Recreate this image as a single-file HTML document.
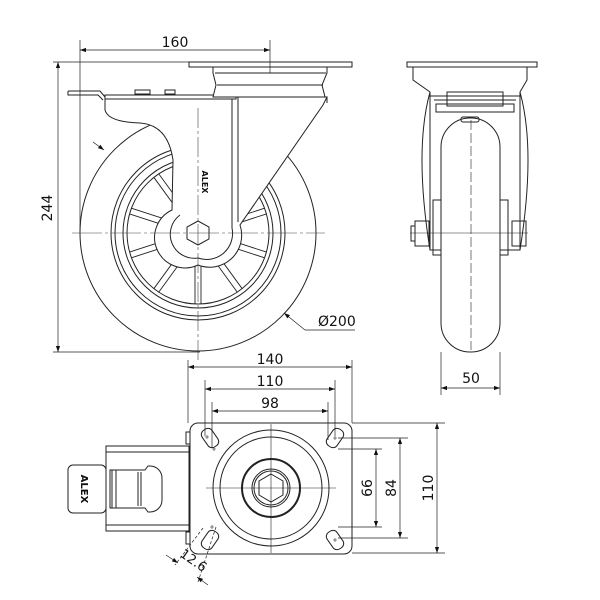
<!DOCTYPE html>
<html><head><meta charset="utf-8"><style>
html,body{margin:0;padding:0;background:#fff}
svg{display:block}
text{font-family:"DejaVu Sans","Liberation Sans",sans-serif;font-size:14px;fill:#111}
</style></head><body>
<svg width="600" height="600" viewBox="0 0 600 600" xmlns="http://www.w3.org/2000/svg">
<defs>
<marker id="a" viewBox="0 0 10 10" refX="10" refY="5" markerWidth="8" markerHeight="6" orient="auto-start-reverse" markerUnits="userSpaceOnUse"><path d="M0,1.5 L10,5 L0,8.5 z" fill="#111"/></marker>
</defs>
<g fill="none" stroke="#222" stroke-width="1">
<!-- FRONT VIEW -->
<circle cx="198" cy="233" r="118"/>
<circle cx="198" cy="233" r="87"/>
<circle cx="198" cy="233" r="83"/>
<circle cx="198" cy="233" r="75"/>
<circle cx="198" cy="233" r="71"/>
<g stroke-width="0.9">
<g id="sp"><line x1="198" y1="200" x2="198" y2="162" transform="translate(-3,0)"/><line x1="198" y1="200" x2="198" y2="162" transform="translate(3,0)"/></g>
<use href="#sp" transform="rotate(36 198 233)"/>
<use href="#sp" transform="rotate(72 198 233)"/>
<use href="#sp" transform="rotate(108 198 233)"/>
<use href="#sp" transform="rotate(144 198 233)"/>
<use href="#sp" transform="rotate(180 198 233)"/>
<use href="#sp" transform="rotate(216 198 233)"/>
<use href="#sp" transform="rotate(252 198 233)"/>
<use href="#sp" transform="rotate(288 198 233)"/>
<use href="#sp" transform="rotate(324 198 233)"/>
</g>
<!-- fork -->
<path d="M105,97 L105,110 Q108,122 140,123 Q168,125 173,160 L172,210 A30,30 0 0 0 198,265 A32,32 0 0 0 240,225 L323,105 L327,97 Z" fill="#fff"/>
<path d="M180,215 A24,24 0 0 0 198,258 A26,26 0 0 0 232,228" />
<line x1="232" y1="97" x2="232" y2="228"/>
<line x1="238" y1="97" x2="238" y2="222"/>
<polygon points="198,221 209,227 209,239 198,245 187,239 187,227" fill="#fff"/>
<!-- lever -->
<path d="M68,91 L100,91 L105,97 M68,91 L68,95 L98,95 L103,100"/>
<rect x="105" y="95" width="131" height="4" fill="#fff"/>
<rect x="135" y="90" width="15" height="4"/><rect x="165" y="90" width="10" height="4"/>
<!-- top plate + bearing -->
<rect x="189" y="62" width="163" height="5" fill="#fff"/>
<path d="M213,67 L327,67 L327,73 L322,85 L325,97 L327,97 L213,97 L216,85 L213,73 Z" fill="#fff"/>
<line x1="215" y1="73" x2="326" y2="73"/><line x1="217" y1="85" x2="323" y2="85"/>
<line x1="327" y1="97" x2="327" y2="103"/>
<!-- centerlines -->
<g stroke-width="0.6" stroke="#444">
<line x1="198" y1="108" x2="198" y2="360" stroke-dasharray="20 3 3 3"/>
<line x1="72" y1="233" x2="325" y2="233" stroke-dasharray="30 3 3 3"/>
</g>
<!-- dims front -->
<g stroke-width="0.7">
<line x1="80" y1="40" x2="80" y2="232"/><line x1="270" y1="40" x2="270" y2="73"/>
<line x1="80" y1="50" x2="270" y2="50" marker-start="url(#a)" marker-end="url(#a)"/>
<line x1="53" y1="62" x2="190" y2="62"/><line x1="53" y1="352" x2="200" y2="352"/>
<line x1="58" y1="62" x2="58" y2="352" marker-start="url(#a)" marker-end="url(#a)"/>
<line x1="305" y1="330" x2="355" y2="330"/><line x1="305" y1="330" x2="284" y2="313" marker-end="url(#a)"/>
<line x1="93" y1="142" x2="104" y2="150" marker-end="url(#a)"/>
</g>
<!-- SIDE VIEW -->
<path d="M413,67 L527,67 L527,80 L520,92 L520,250 L430,250 L430,92 L413,80 Z" fill="#fff"/>
<rect x="407" y="62" width="130" height="5" fill="#fff"/>
<path d="M430,92 Q414,150 430,250 M520,92 Q536,150 520,250"/>
<path d="M430,96 L520,96 M434,100 L516,100 M436,104 L514,104 L514,112 L436,112 Z"/>
<rect x="447" y="92" width="56" height="14"/>
<rect x="441" y="118" width="59" height="234" rx="29" fill="#fff"/>
<rect x="461" y="117" width="18" height="5" rx="2"/>
<rect x="433" y="200" width="8" height="55"/><rect x="500" y="200" width="8" height="55"/>
<rect x="415" y="221" width="14" height="25"/><rect x="512" y="221" width="14" height="25"/>
<rect x="411" y="226" width="4" height="15"/>
<line x1="410" y1="233" x2="528" y2="233" stroke-width="0.6"/>
<line x1="471" y1="120" x2="471" y2="350" stroke-width="0.6" stroke-dasharray="10 3"/>
<g stroke-width="0.7">
<line x1="441" y1="352" x2="441" y2="395"/><line x1="500" y1="352" x2="500" y2="395"/>
<line x1="441" y1="388" x2="500" y2="388" marker-start="url(#a)" marker-end="url(#a)"/>
</g>
<!-- BOTTOM VIEW -->
<rect x="106" y="446" width="83" height="85" fill="#fff"/>
<line x1="106" y1="452" x2="189" y2="452"/><line x1="106" y1="525" x2="189" y2="525"/>
<rect x="68" y="465" width="38" height="48" rx="5" fill="#fff"/>
<path d="M110,470 L145,470 L148,466 L150,466 A12,12 0 0 1 162,478 L162,500 A12,12 0 0 1 150,512 L148,512 L145,508 L110,508 Z"/>
<line x1="112" y1="470" x2="112" y2="508"/><line x1="116" y1="470" x2="116" y2="508"/>
<line x1="138" y1="472" x2="138" y2="506"/><line x1="141" y1="472" x2="141" y2="506"/>
<rect x="186" y="432" width="4" height="12"/><rect x="186" y="532" width="4" height="12"/>
<rect x="190" y="423" width="162" height="131" rx="8" fill="#fff"/>
<circle cx="271" cy="488" r="58"/><circle cx="271" cy="488" r="51"/>
<circle cx="271" cy="488" r="29" stroke-width="2"/><circle cx="271" cy="488" r="19"/><circle cx="271" cy="488" r="17"/>
<polygon points="271,474 283,481 283,495 271,502 259,495 259,481"/>
<g>
<rect x="200" y="432" width="20" height="12" rx="5" transform="rotate(55 210 438)"/>
<rect x="325" y="432" width="20" height="12" rx="5" transform="rotate(-55 335 438)"/>
<rect x="200" y="534" width="20" height="12" rx="5" transform="rotate(-55 210 540)"/>
<rect x="325" y="534" width="20" height="12" rx="5" transform="rotate(55 335 540)"/>
</g>
<g stroke-width="0.6">
<line x1="271" y1="424" x2="271" y2="553"/><line x1="206" y1="488" x2="336" y2="488"/>
<path d="M205,437h4m-2,-2v4 M212,449h4m-2,-2v4 M333,438h4m-2,-2v4 M210,527h4m-2,-2v4 M333,540h4m-2,-2v4"/>
</g>
<g stroke-width="0.7">
<line x1="188" y1="360" x2="188" y2="423"/><line x1="352" y1="360" x2="352" y2="423"/>
<line x1="188" y1="367" x2="352" y2="367" marker-start="url(#a)" marker-end="url(#a)"/>
<line x1="205" y1="380" x2="205" y2="436"/><line x1="335" y1="380" x2="335" y2="436"/>
<line x1="205" y1="389" x2="335" y2="389" marker-start="url(#a)" marker-end="url(#a)"/>
<line x1="212" y1="402" x2="212" y2="448"/><line x1="328" y1="402" x2="328" y2="440"/>
<line x1="212" y1="411" x2="328" y2="411" marker-start="url(#a)" marker-end="url(#a)"/>
<line x1="338" y1="449" x2="382" y2="449"/><line x1="338" y1="527" x2="382" y2="527"/>
<line x1="376" y1="449" x2="376" y2="527" marker-start="url(#a)" marker-end="url(#a)"/>
<line x1="338" y1="438" x2="408" y2="438"/><line x1="338" y1="538" x2="408" y2="538"/>
<line x1="400" y1="438" x2="400" y2="538" marker-start="url(#a)" marker-end="url(#a)"/>
<line x1="352" y1="423" x2="445" y2="423"/><line x1="352" y1="553" x2="445" y2="553"/>
<line x1="437" y1="423" x2="437" y2="553" marker-start="url(#a)" marker-end="url(#a)"/>
<line x1="216" y1="527" x2="198" y2="582" stroke-dasharray="3 2"/><line x1="203" y1="528" x2="175" y2="565" stroke-dasharray="3 2"/>
<line x1="166" y1="555" x2="178" y2="563" marker-end="url(#a)"/>
<line x1="208" y1="585" x2="197" y2="577" marker-end="url(#a)"/>
</g>
</g>
<text x="175" y="47" text-anchor="middle">160</text>
<text transform="translate(52,208) rotate(-90)" text-anchor="middle">244</text>
<text x="318" y="326">Ø200</text>
<text x="471" y="383" text-anchor="middle">50</text>
<text x="270" y="364" text-anchor="middle">140</text>
<text x="270" y="386" text-anchor="middle">110</text>
<text x="270" y="408" text-anchor="middle">98</text>
<text transform="translate(372,488) rotate(-90)" text-anchor="middle">66</text>
<text transform="translate(396,488) rotate(-90)" text-anchor="middle">84</text>
<text transform="translate(433,488) rotate(-90)" text-anchor="middle">110</text>
<text transform="translate(191,564) rotate(35)" text-anchor="middle" style="font-size:13px">12.6</text>
<text transform="translate(81,489) rotate(90)" text-anchor="middle" style="font-size:10px;font-weight:bold">ALEX</text>
<text transform="translate(202,182) rotate(90)" text-anchor="middle" style="font-size:8px;font-weight:bold">ALEX</text>
</svg>
</body></html>
